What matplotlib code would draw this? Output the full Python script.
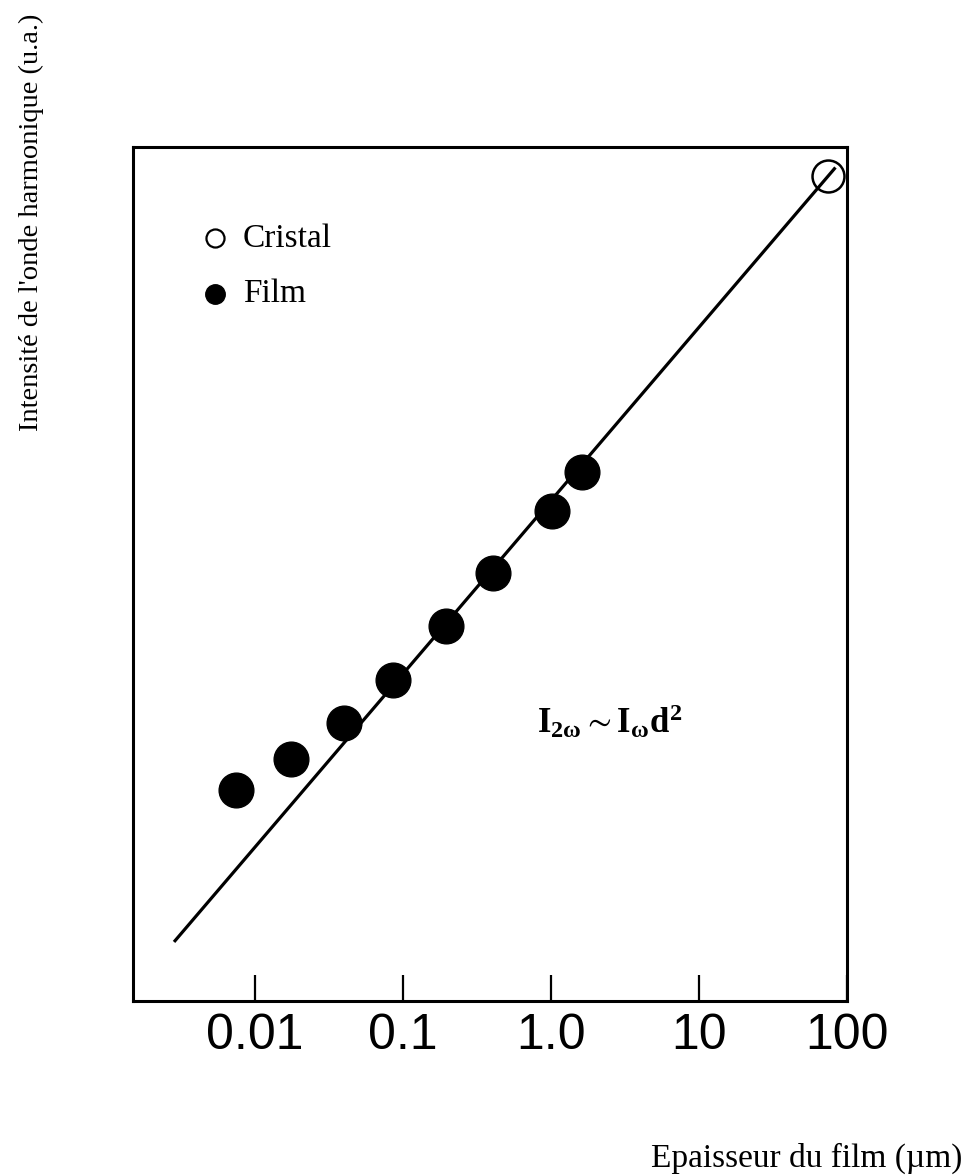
import matplotlib.pyplot as plt
from matplotlib.ticker import NullLocator

# Film thickness (um) and harmonic intensity (arbitrary units)
film_thickness = [0.0074, 0.0174, 0.040, 0.086, 0.195, 0.405, 1.02, 1.62]
film_intensity = [4.53e-4, 1.05e-3, 2.72e-3, 8.43e-3, 0.0361, 0.146, 0.754, 2.15]

crystal_thickness = [75]
crystal_intensity = [5630]

# I ~ d^2 law, end points of the drawn line
law_thickness = [0.00284, 83.6]
law_intensity = [8.07e-6, 6990]

tick_values = [0.01, 0.1, 1, 10, 100]
tick_labels = ['0.01', '0.1', '1.0', '10', '100']

plt.rcParams['mathtext.fontset'] = 'custom'
plt.rcParams['mathtext.rm'] = 'Liberation Serif:bold'
plt.rcParams['mathtext.it'] = 'Liberation Serif:bold'

fig = plt.figure(figsize=(9.63, 11.75), dpi=100)
ax = fig.add_axes([0.1381, 0.1481, 0.7414, 0.7268])

ax.plot(law_thickness, law_intensity, color='black', lw=2.3, solid_capstyle='butt')
ax.plot(film_thickness, film_intensity, 'o', color='black', ms=25, zorder=3)
ax.plot(crystal_thickness, crystal_intensity, 'o', mfc='none', mec='black', mew=1.8, ms=23, zorder=3)

ax.set_xscale('log')
ax.set_yscale('log')
ax.set_xlim(0.0015, 100)
ax.set_ylim(1.68e-6, 1.205e4)

ax.set_xticks(tick_values, labels=tick_labels)
ax.xaxis.set_minor_locator(NullLocator())
ax.set_yticks([])
ax.yaxis.set_minor_locator(NullLocator())
ax.tick_params(axis='x', direction='in', length=19, width=1.6, pad=9,
               labelsize=36, labelfontfamily='Liberation Sans')
for s in ax.spines.values():
    s.set_linewidth(2.2)

# legend drawn by hand
ax.plot([0.115], [0.893], 'o', mfc='none', mec='black', mew=1.6, ms=13, transform=ax.transAxes)
ax.plot([0.115], [0.828], 'o', color='black', ms=14, transform=ax.transAxes)
ax.text(0.154, 0.893, 'Cristal', transform=ax.transAxes, fontsize=24,
        family='Liberation Serif', va='center')
ax.text(0.154, 0.828, 'Film', transform=ax.transAxes, fontsize=24,
        family='Liberation Serif', va='center')

fig.text(0.558, 0.376, r'$\mathregular{I_{2ω} \sim I_{ω}d^{2}}$',
         fontsize=25, fontweight='bold', family='Liberation Serif',
         va='baseline', ha='left')

fig.text(0.033, 0.811, "Intensité de l'onde harmonique (u.a.)", rotation=90,
         fontsize=20.5, family='Liberation Serif', ha='center', va='center')
fig.text(0.999, 0.0145, 'Epaisseur du film (µm)', fontsize=24,
         family='Liberation Serif', ha='right', va='center')

fig.savefig('out.png', dpi=100)
